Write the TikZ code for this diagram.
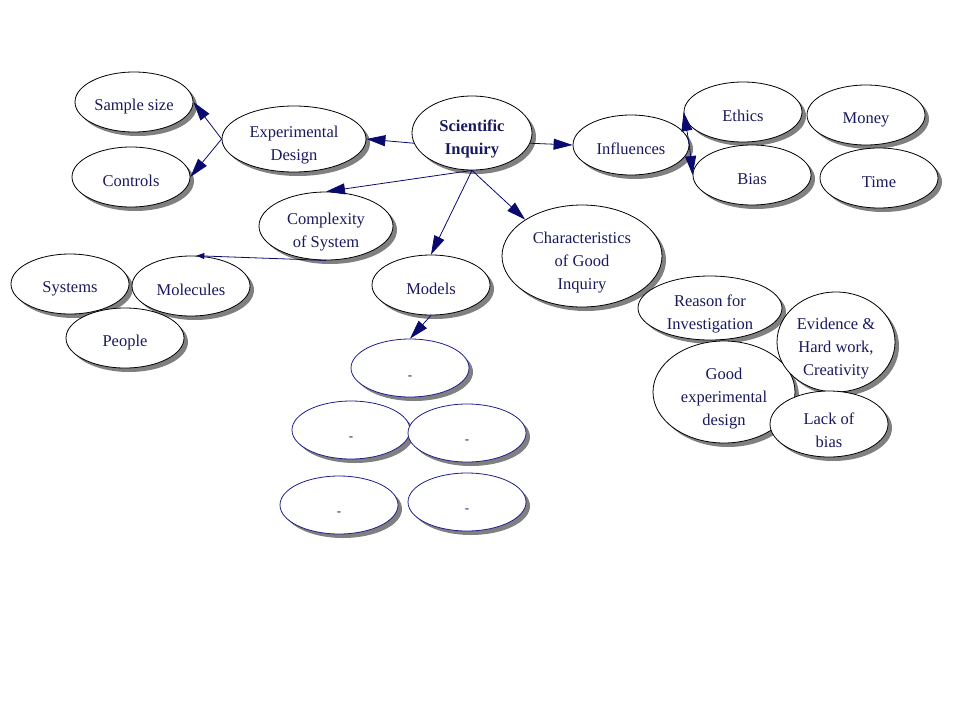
\documentclass[tikz,border=0pt]{standalone}
\usepackage{fontspec}
\setmainfont{Liberation Serif}
\usetikzlibrary{shapes.geometric,shadows,arrows.meta}
\definecolor{ink}{RGB}{25,25,95}
\definecolor{arr}{RGB}{10,10,110}
\definecolor{rim}{RGB}{30,30,140}
\newcommand{\dn}{\rule{0pt}{24pt}}
\tikzset{
  bub/.style={ellipse,draw=black,line width=0.8pt,fill=white,text=ink,align=center,inner xsep=0pt,inner ysep=-6pt,
    minimum width=118,minimum height=60,font=\fontsize{16.5}{23}\selectfont,
    execute at begin node={\rule{0pt}{20pt}},
    drop shadow={shadow xshift=4pt,shadow yshift=-4pt,fill=black!50,opacity=1}},
  blank/.style={bub,draw=rim,minimum height=58,font=\fontsize{13}{14}\selectfont},
  link/.style={draw=arr,line width=0.8pt,-{Triangle[length=19pt,width=11pt]}}
}
\begin{document}
\begin{tikzpicture}[x=1pt,y=-1pt]
                \useasboundingbox (0,0) rectangle (960,720);
                \node[bub] (sam) at (134,102) {Sample size};
                \node[bub] (ctl) at (131,177) {Controls};
                \node[bub,minimum width=144,minimum height=66] (ed) at (294,139) {\dn Experimental\\Design};
                \node[bub,minimum width=120,minimum height=74,font=\fontsize{16.5}{23}\selectfont\bfseries] (si) at (472,133) {\dn Scientific\\Inquiry};
                \node[bub,minimum width=134,minimum height=68] (cplx) at (326,226) {\dn Complexity\\of System};
                \node[bub,minimum width=116] (inf) at (631,145) {Influences};
                \node[bub] (eth) at (743,112) {Ethics};
                \node[bub] (mon) at (866,115) {Money};
                \node[bub] (bias) at (752,175) {Bias};
                \node[bub] (time) at (879,178) {Time};
                \node[bub,minimum width=160,minimum height=102] (chr) at (582,256) {\dn Characteristics\\of Good\\Inquiry};
                \node[bub,minimum width=144,minimum height=64] (rsn) at (710,308) {\dn Reason for\\Investigation};
                \node[bub,minimum width=142,minimum height=102] (gd) at (724,392) {\dn Good\\experimental\\design};
                \node[bub,minimum height=100] (evd) at (836,342) {\dn Evidence \&\\Hard work,\\Creativity};
                \node[bub,minimum height=66] (lack) at (829,424) {\dn Lack of\\bias};
                \node[bub] (sys) at (70,284) {Systems};
                \node[bub] (mol) at (191,286) {Molecules};
                \node[bub] (ppl) at (125,338) {People};
                \node[bub] (mdl) at (431,285) {Models};
                \node[blank] (m1) at (410,368) {\raisebox{-2pt}{-}};
                \node[blank] (m2) at (351,430) {-};
                \node[blank] (m3) at (467,433) {-};
                \node[blank] (m4) at (339,505) {-};
                \node[blank] (m5) at (467,502) {-};
                \draw[link] (si.190) -- (ed.east);
                \draw[link] (ed.west) -- (sam.east);
                \draw[link] (ed.west) -- (ctl.east);
                \draw[link] (si.350) -- (inf.west);
                \draw[link] (inf.east) -- (eth.west);
                \draw[link] (inf.east) -- (bias.west);
                \draw[link] (si.south) -- (cplx.north);
                \draw[link] (si.south) -- (mdl.north);
                \draw[link] (si.south) -- (chr.north west);
                \draw[link,-{Triangle[length=8pt,width=6pt]}] (cplx.south) -- (mol.80);
                \draw[link] (mdl.south) -- (m1.north);
\end{tikzpicture}
\end{document}
